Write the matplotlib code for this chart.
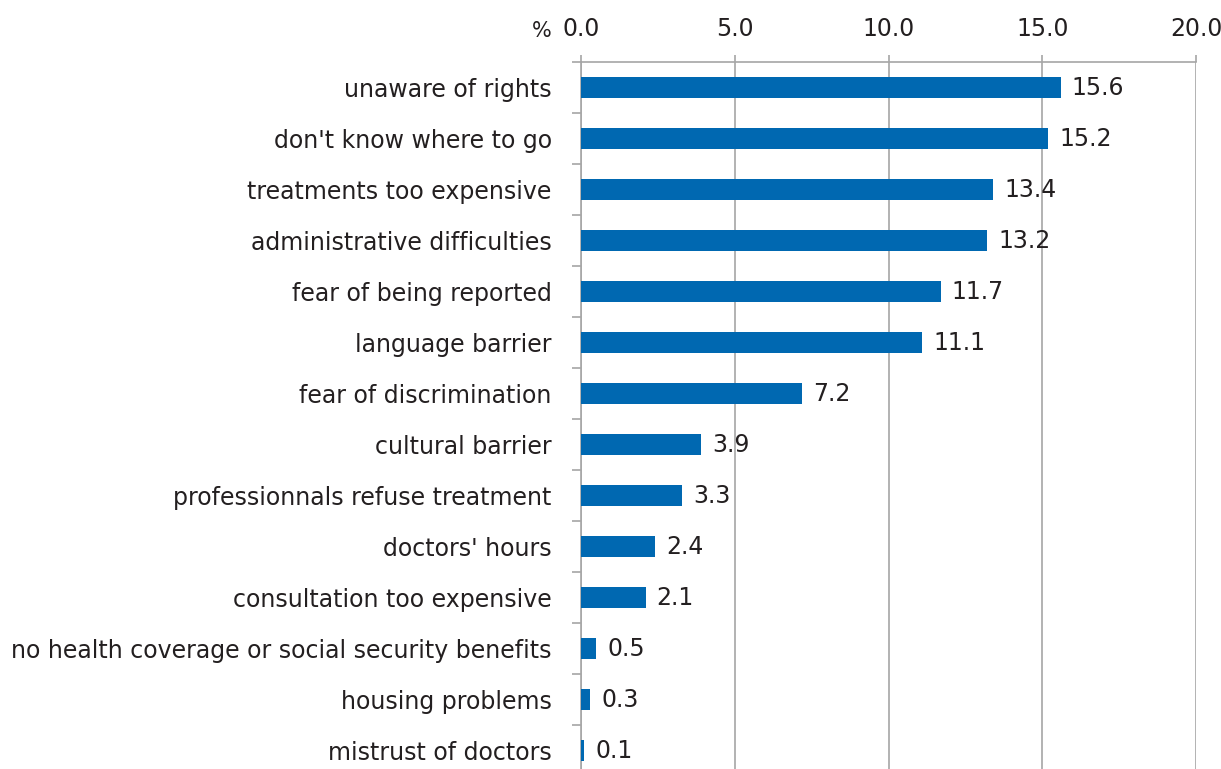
import matplotlib
matplotlib.use("Agg")
import matplotlib.pyplot as plt

# Reasons for not accessing health care (%)
categories = ["unaware of rights", "don't know where to go", "treatments too expensive",
              "administrative difficulties", "fear of being reported", "language barrier",
              "fear of discrimination", "cultural barrier", "professionnals refuse treatment",
              "doctors' hours", "consultation too expensive",
              "no health coverage or social security benefits", "housing problems",
              "mistrust of doctors"]
values = [15.6, 15.2, 13.4, 13.2, 11.7, 11.1, 7.2, 3.9, 3.3, 2.4, 2.1, 0.5, 0.3, 0.1]
xticks = [0, 5, 10, 15, 20]

plt.rcParams['font.family'] = ['DejaVu Sans']
text_col = "#231f20"
grid_col = "#a6a6a6"
bar_col = "#0068b1"
fs = 17

fig = plt.figure(figsize=(12.21, 7.69), dpi=100)
ax = fig.add_axes([581/1221, 1-776/769, 615/1221, 714/769])

pos = list(range(len(categories)))
ax.barh(pos, values, height=0.43, color=bar_col, zorder=3)
for p, v in zip(pos, values):
    ax.text(v + 0.36, p, f"{v:.1f}", va="center", ha="left", fontsize=fs, color=text_col)

ax.set_ylim(len(categories) - 0.5, -0.5)
ax.set_xlim(0, 20)
ax.set_yticks(pos)
ax.set_yticklabels(categories, fontsize=fs, color=text_col)
ax.tick_params(axis="y", length=0, pad=21)
# category boundary ticks on left spine
ax.set_yticks([p + 0.5 for p in pos[:-1]] + [-0.5], minor=True)
ax.tick_params(axis="y", which="minor", length=6.5, color=grid_col, width=1.2)

ax.xaxis.tick_top()
ax.set_xticks(xticks)
ax.set_xticklabels([f"{x:.1f}" for x in xticks], fontsize=fs, color=text_col)
ax.tick_params(axis="x", length=5, color=grid_col, width=1.2, pad=10)
ax.grid(axis="x", color=grid_col, linewidth=1.2, zorder=0)
ax.text(-0.95, 1.029, "%", transform=ax.get_xaxis_transform(), fontsize=fs - 2, color=text_col,
        ha="right", va="bottom")

for s in ["bottom", "right"]:
    ax.spines[s].set_visible(False)
for s in ["top", "left"]:
    ax.spines[s].set_color(grid_col)
    ax.spines[s].set_linewidth(1.2)

fig.savefig("out.png", dpi=100)
